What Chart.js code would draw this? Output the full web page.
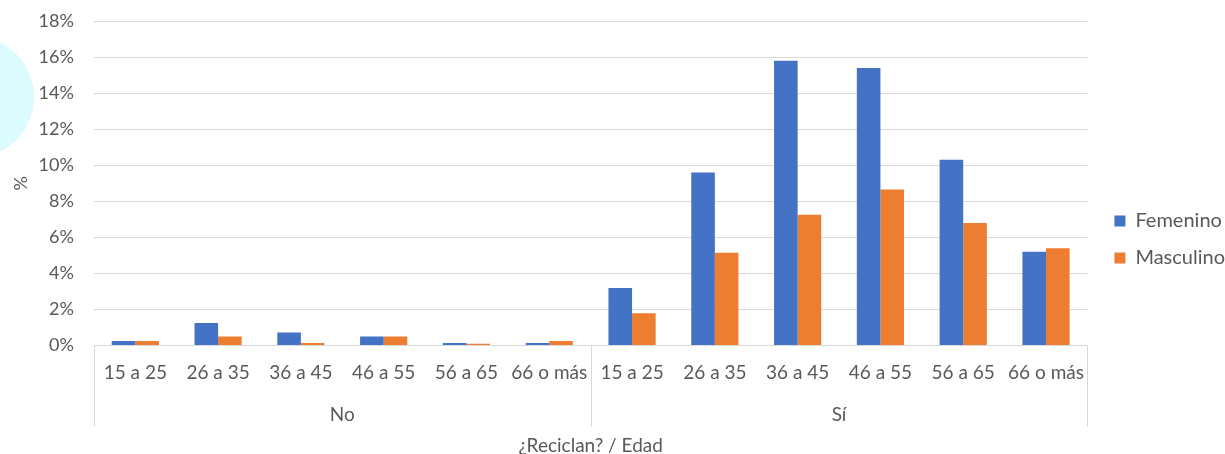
<!DOCTYPE html>
<html lang="es">
<head>
<meta charset="utf-8">
<title>¿Reciclan? por edad y sexo</title>
<script src="https://cdn.jsdelivr.net/npm/chart.js@4/dist/chart.umd.min.js"></script>
<style>
  html, body { margin: 0; padding: 0; background: #ffffff; }
  #wrap { position: relative; width: 1225px; height: 454px; }
</style>
</head>
<body>
<div id="wrap"><canvas id="chart" width="1225" height="454"></canvas></div>
<script>
// Age brackets, repeated for each answer group
const ageBrackets = ['15 a 25', '26 a 35', '36 a 45', '46 a 55', '56 a 65', '66 o más'];
const groups = ['No', 'Sí'];
const categories = [...ageBrackets, ...ageBrackets];

// Share of respondents (%) by sex
const femenino  = [0.25, 1.25, 0.72, 0.5, 0.15, 0.15, 3.2, 9.6, 15.8, 15.4, 10.3, 5.2];
const masculino = [0.25, 0.5, 0.15, 0.5, 0.1, 0.25, 1.8, 5.15, 7.25, 8.65, 6.8, 5.4];

// Y axis tick values (%)
const yTicks = [0, 2, 4, 6, 8, 10, 12, 14, 16, 18];

const TEXT = '#595959';
const GRID = '#d9d9d9';
const FONT = 'Lato, "Open Sans", sans-serif';

// Soft cyan ornament in the left corner
const cornerOrnament = {
  id: 'cornerOrnament',
  beforeDraw(chart) {
    const ctx = chart.ctx;
    ctx.save();
    ctx.fillStyle = '#dcfbff';
    ctx.beginPath();
    ctx.arc(-27, 97, 61, 0, Math.PI * 2);
    ctx.fill();
    ctx.restore();
  }
};

// Leave a little air between the plot and the legend
const legendGap = {
  id: 'legendGap',
  afterLayout(chart) {
    if (chart.legend) {
      chart.legend.left += 10;
      chart.legend.right += 10;
    }
  }
};

// Vertical separators that frame the two answer groups below the axis
const groupSeparators = {
  id: 'groupSeparators',
  afterDraw(chart) {
    const x = chart.scales.x;
    const top = chart.chartArea.bottom;
    const bottom = top + 81;
    const per = ageBrackets.length;
    const xs = [x.left];
    for (let g = 1; g < groups.length; g++) {
      xs.push((x.getPixelForValue(g * per - 1) + x.getPixelForValue(g * per)) / 2);
    }
    xs.push(x.right);
    const ctx = chart.ctx;
    ctx.save();
    ctx.strokeStyle = GRID;
    ctx.lineWidth = 1;
    xs.forEach(px => {
      const p = Math.round(px) + 0.5;
      ctx.beginPath();
      ctx.moveTo(p, top);
      ctx.lineTo(p, bottom);
      ctx.stroke();
    });
    ctx.restore();
  }
};

new Chart(document.getElementById('chart'), {
  type: 'bar',
  data: {
    labels: categories,
    datasets: [
      { label: 'Femenino', data: femenino, backgroundColor: '#4472c4', xAxisID: 'x', yAxisID: 'y' },
      { label: 'Masculino', data: masculino, backgroundColor: '#ed7d31', xAxisID: 'x', yAxisID: 'y' }
    ]
  },
  options: {
    responsive: false,
    animation: false,
    devicePixelRatio: 1,
    datasets: { bar: { categoryPercentage: 0.57, barPercentage: 1.0 } },
    layout: { padding: { top: 5, left: 10, right: 0, bottom: -20 } },
    plugins: {
      legend: {
        position: 'right',
        labels: {
          font: { family: FONT, size: 20 },
          color: TEXT,
          boxWidth: 11,
          boxHeight: 11,
          padding: 17
        }
      },
      tooltip: { enabled: false },
      title: { display: false }
    },
    scales: {
      x: {
        type: 'category',
        position: 'bottom',
        grid: { display: false, drawTicks: false },
        border: { display: false },
        ticks: {
          font: { family: FONT, size: 19 },
          color: TEXT,
          padding: 16,
          maxRotation: 0,
          autoSkip: false
        }
      },
      x2: {
        type: 'category',
        position: 'bottom',
        labels: groups,
        offset: true,
        grid: { display: false, drawTicks: false },
        border: { display: false },
        ticks: {
          font: { family: FONT, size: 19 },
          color: TEXT,
          padding: 3,
          maxRotation: 0
        },
        title: {
          display: true,
          text: '¿Reciclan? / Edad',
          font: { family: FONT, size: 19 },
          color: TEXT,
          padding: { top: 5, bottom: 17 }
        }
      },
      y: {
        min: 0,
        max: 18,
        afterBuildTicks(scale) { scale.ticks = yTicks.map(v => ({ value: v })); },
        afterFit(scale) { scale.paddingTop = 21; },
        grid: { color: GRID, lineWidth: 1, drawTicks: false },
        border: { display: false },
        ticks: {
          font: { family: FONT, size: 18 },
          color: TEXT,
          padding: 20,
          callback: v => v + '%'
        },
        title: {
          display: true,
          text: '%',
          font: { family: FONT, size: 18 },
          color: TEXT,
          padding: { top: 0, bottom: -13 }
        }
      }
    }
  },
  plugins: [cornerOrnament, legendGap, groupSeparators]
});
</script>
</body>
</html>
